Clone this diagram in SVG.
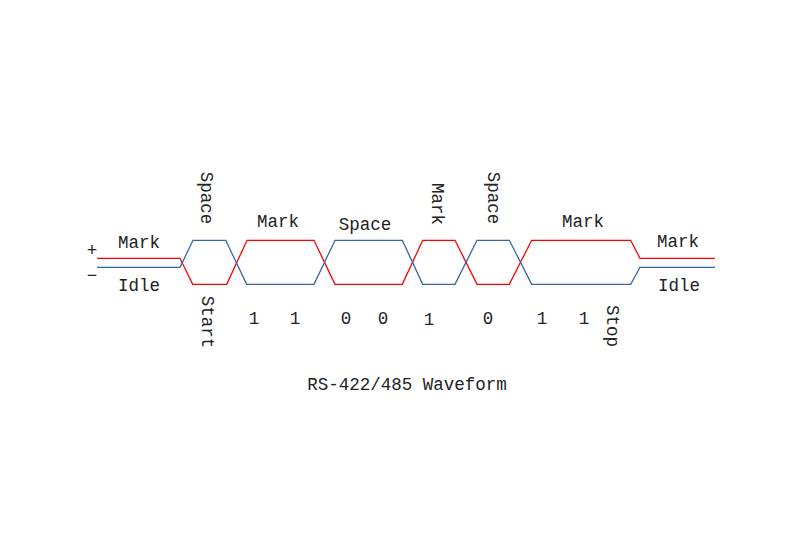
<svg xmlns="http://www.w3.org/2000/svg" width="794" height="559" viewBox="0 0 794 559">
<style>
.t{font-family:"Liberation Mono","DejaVu Sans Mono",monospace;font-size:17.5px;fill:#222;text-anchor:middle}
.v{dominant-baseline:central}
.w{fill:none;stroke-width:1.3;stroke-linejoin:miter}
.pos{stroke:#ff0000}
.neg{stroke:#3465a4}
</style>
<rect width="794" height="559" fill="#ffffff"/>
<g id="waveform">
<path id="plus-line" class="w pos" d="M97,258.3 H180 L192.7,284.3 H226.7 L247,240.3 H314 L335,284.3 H402.3 L422.7,240.3 H455 L477,284.3 H509.3 L531.7,240.3 H630.7 L640,258.3 H715"/>
<path id="minus-line" class="w neg" d="M97,267.3 H180 L193,240.3 H225.7 L246.7,284.3 H314 L335,240.3 H402.3 L422.7,284.3 H455 L477,240.3 H509.3 L531.7,284.3 H630.7 L640,267.3 H715"/>
</g>
<g id="labels">
<text class="t" x="92" y="256">+</text>
<text class="t" x="92" y="281">−</text>
<text class="t" x="139" y="248">Mark</text>
<text class="t" x="139" y="291">Idle</text>
<text class="t v" transform="translate(206,198) rotate(90)">Space</text>
<text class="t v" transform="translate(207,322) rotate(90)">Start</text>
<text class="t" x="278" y="227">Mark</text>
<text class="t" x="365" y="230">Space</text>
<text class="t v" transform="translate(437,204) rotate(90)">Mark</text>
<text class="t v" transform="translate(493,198) rotate(90)">Space</text>
<text class="t" x="583" y="227">Mark</text>
<text class="t" x="678" y="247">Mark</text>
<text class="t" x="679" y="291">Idle</text>
<text class="t" x="254" y="324">1</text>
<text class="t" x="295" y="324">1</text>
<text class="t" x="346" y="324">0</text>
<text class="t" x="383" y="324">0</text>
<text class="t" x="429" y="325">1</text>
<text class="t" x="488" y="324">0</text>
<text class="t" x="542" y="324">1</text>
<text class="t" x="584" y="324">1</text>
<text class="t v" transform="translate(612,326) rotate(90)">Stop</text>
<text class="t" x="407" y="390">RS-422/485 Waveform</text>
</g>
</svg>
